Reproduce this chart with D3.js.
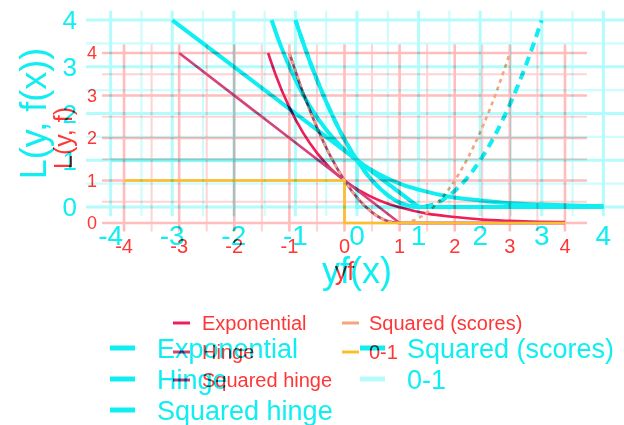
<!DOCTYPE html>
<html>
<head>
<meta charset="utf-8">
<script src="https://cdn.jsdelivr.net/npm/d3@7"></script>
<style>
  body { margin: 0; background: #fff; }
  #wrap { position: relative; width: 624px; height: 425px; overflow: hidden; background: #fff; }
  #wrap svg { position: absolute; left: 0; top: 0; }
  #front { mix-blend-mode: multiply; }
  text { font-family: "Liberation Sans", Arial, sans-serif; }
</style>
</head>
<body>
<div id="wrap"></div>
<script>
// loss names, in legend order
const lossNames = ["Exponential", "Hinge", "Squared hinge", "Squared (scores)", "0-1"];

// points (yf, L)
const expYF = [-1.386, -1.25, -1, -0.75, -0.5, -0.25, 0, 0.25, 0.5, 0.75, 1, 1.5, 2, 2.5, 3, 3.5, 4];
const expL = [4, 3.49, 2.72, 2.12, 1.65, 1.28, 1, 0.78, 0.61, 0.47, 0.37, 0.22, 0.14, 0.08, 0.05, 0.03, 0.02];
const hingeYF = [-3, 1, 4];
const hingeL = [4, 0, 0];
const sqHingeYF = [-1, -0.75, -0.5, -0.25, 0, 0.25, 0.5, 0.75, 1, 4];
const sqHingeL = [4, 3.06, 2.25, 1.56, 1, 0.56, 0.25, 0.06, 0, 0];
const sqScoreYF = [-1, -0.75, -0.5, -0.25, 0, 0.25, 0.5, 0.75, 1, 1.25, 1.5, 1.75, 2, 2.25, 2.5, 2.75, 3];
const sqScoreL = [4, 3.06, 2.25, 1.56, 1, 0.56, 0.25, 0.06, 0, 0.06, 0.25, 0.56, 1, 1.56, 2.25, 3.06, 4];
const zeroOneYF = [-4, 0, 0, 4];
const zeroOneL = [1, 1, 0, 0];

const xTicks = [-4, -3, -2, -1, 0, 1, 2, 3, 4];
const yTicks = [0, 1, 2, 3, 4];
const xMinor = [-3.5, -2.5, -1.5, -0.5, 0.5, 1.5, 2.5, 3.5];
const yMinor = [0.5, 1.5, 2.5, 3.5];

const series = [
  { name: lossNames[0], x: expYF, y: expL, smooth: true },
  { name: lossNames[1], x: hingeYF, y: hingeL, smooth: false },
  { name: lossNames[2], x: sqHingeYF, y: sqHingeL, smooth: true },
  { name: lossNames[3], x: sqScoreYF, y: sqScoreL, smooth: true, dashed: true },
  { name: lossNames[4], x: zeroOneYF, y: zeroOneL, smooth: false }
];

// two copies of the same plot, one cyan behind, one red multiplied on top
const layers = [
  {
    id: "back", panel: { l: 86, r: 628, t: 10.7, b: 216.3 },
    text: "#10eef2", lineColors: ["#10eef2", "#10eef2", "#10eef2", "#10eef2", "#10eef2"],
    lineOpacity: [1, 1, 1, 1, 0.3],
    gridMajor: "#b4fbfb", gridMinor: "#cffcfc", gridW: 3, gridMinorW: 2.2,
    lineW: 4, dash: "9,6",
    xTickFont: 28, yTickFont: 26, xTickBase: 245, yTickX: 77,
    titleFont: 36, yTitleX: 33, xTitleBase: 283, xTitle: "yf(x)", yTitle: "L(y, f(x))",
    legendFont: 27, keyLen: 25, keyW: 5, colX: [110, 360], textOff: [47, 47], rowY: [348, 379, 410]
  },
  {
    id: "front", panel: { l: 102, r: 587, t: 44.5, b: 231.5 },
    text: "#ff3636", lineColors: ["#ee1e5a", "#d4447a", "#b0467c", "#f5a47c", "#fbbf2e"],
    lineOpacity: [1, 1, 1, 1, 1],
    gridMajor: "#ffbdbd", gridMinor: "#ffd3d3", gridW: 2.6, gridMinorW: 2,
    lineW: 2.6, dash: "4,4",
    xTickFont: 20, yTickFont: 18, xTickBase: 253, yTickX: 97,
    titleFont: 25, yTitleX: 63, xTitleBase: 280, xTitle: "yf", yTitle: "L(y, f)",
    legendFont: 20, keyLen: 17, keyW: 3, colX: [173, 342], textOff: [29, 27], rowY: [323, 352, 380]
  }
];

const wrap = d3.select("#wrap");

layers.forEach(L => {
  const svg = wrap.append("svg")
    .attr("id", L.id)
    .attr("width", 624)
    .attr("height", 425);

  const x = d3.scaleLinear().domain([-4.4, 4.4]).range([L.panel.l, L.panel.r]);
  const y = d3.scaleLinear().domain([-0.2, 4.2]).range([L.panel.b, L.panel.t]);

  const grid = svg.append("g");
  grid.selectAll(".hmin").data(yMinor).join("line")
    .attr("x1", L.panel.l).attr("x2", L.panel.r)
    .attr("y1", d => y(d)).attr("y2", d => y(d))
    .attr("stroke", L.gridMinor).attr("stroke-width", L.gridMinorW);
  grid.selectAll(".vmin").data(xMinor).join("line")
    .attr("y1", L.panel.t).attr("y2", L.panel.b)
    .attr("x1", d => x(d)).attr("x2", d => x(d))
    .attr("stroke", L.gridMinor).attr("stroke-width", L.gridMinorW);
  grid.selectAll(".hmaj").data(yTicks).join("line")
    .attr("x1", L.panel.l).attr("x2", L.panel.r)
    .attr("y1", d => y(d)).attr("y2", d => y(d))
    .attr("stroke", L.gridMajor).attr("stroke-width", L.gridW);
  grid.selectAll(".vmaj").data(xTicks).join("line")
    .attr("y1", L.panel.t).attr("y2", L.panel.b)
    .attr("x1", d => x(d)).attr("x2", d => x(d))
    .attr("stroke", L.gridMajor).attr("stroke-width", L.gridW);

  // curves
  series.forEach((s, i) => {
    const line = d3.line()
      .x(j => x(s.x[j]))
      .y(j => y(s.y[j]))
      .curve(s.smooth ? d3.curveMonotoneX : d3.curveLinear);
    svg.append("path")
      .attr("d", line(d3.range(s.x.length)))
      .attr("fill", "none")
      .attr("stroke", L.lineColors[i])
      .attr("stroke-opacity", L.lineOpacity[i])
      .attr("stroke-width", L.lineW)
      .attr("stroke-dasharray", s.dashed ? L.dash : null);
  });

  // tick labels
  svg.selectAll(".xt").data(xTicks).join("text")
    .attr("x", d => x(d)).attr("y", L.xTickBase)
    .attr("text-anchor", "middle")
    .attr("font-size", L.xTickFont)
    .attr("fill", L.text)
    .text(d => d);
  svg.selectAll(".yt").data(yTicks).join("text")
    .attr("x", L.yTickX).attr("y", d => y(d))
    .attr("dy", "0.36em")
    .attr("text-anchor", "end")
    .attr("font-size", L.yTickFont)
    .attr("fill", L.text)
    .text(d => d);

  // axis titles
  svg.append("text")
    .attr("x", (L.panel.l + L.panel.r) / 2).attr("y", L.xTitleBase)
    .attr("text-anchor", "middle")
    .attr("font-size", L.titleFont)
    .attr("fill", L.text)
    .text(L.xTitle);
  svg.append("text")
    .attr("transform", `translate(${L.yTitleX},${(L.panel.t + L.panel.b) / 2}) rotate(-90)`)
    .attr("dy", "0.36em")
    .attr("text-anchor", "middle")
    .attr("font-size", L.titleFont)
    .attr("fill", L.text)
    .text(L.yTitle);

  // legend, filled column by column
  const leg = svg.append("g");
  lossNames.forEach((name, i) => {
    const col = Math.floor(i / 3), row = i % 3;
    const kx = L.colX[col], ky = L.rowY[row];
    leg.append("line")
      .attr("x1", kx).attr("x2", kx + L.keyLen)
      .attr("y1", ky).attr("y2", ky)
      .attr("stroke", L.lineColors[i])
      .attr("stroke-opacity", L.lineOpacity[i])
      .attr("stroke-width", L.keyW);
    leg.append("text")
      .attr("x", kx + L.textOff[col]).attr("y", ky)
      .attr("dy", "0.36em")
      .attr("font-size", L.legendFont)
      .attr("fill", L.text)
      .text(name);
  });
});
</script>
</body>
</html>
